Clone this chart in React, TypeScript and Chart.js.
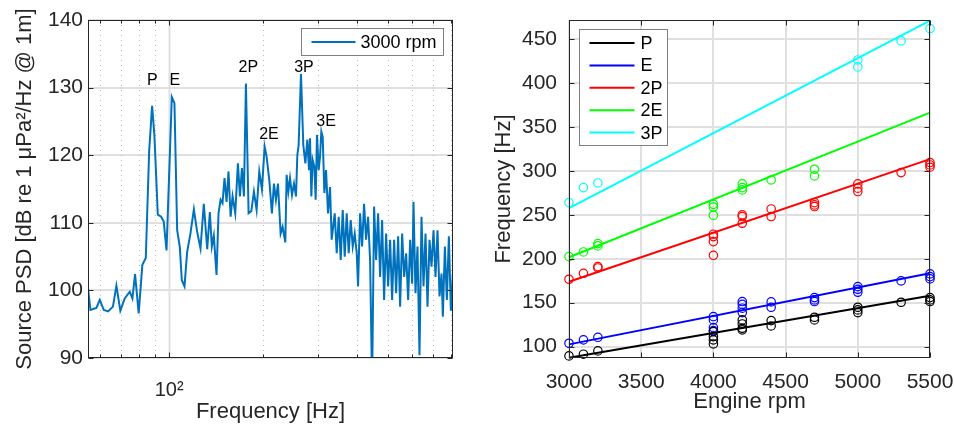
import React, { useEffect, useRef } from 'react';
import { Chart, registerables } from 'chart.js';

Chart.register(...registerables);

const FONT = "'Liberation Sans', Arial, Helvetica, sans-serif";
const AX = '#262626';
const GRID = '#e0e0e0';

// ---------- Left panel: source PSD at 3000 rpm ----------
const psdFreq = [
  54.9, 56.0, 58.5, 60.0, 61.8, 63.8, 66.1, 67.8, 69.8, 72.1, 74.8, 76.3, 77.8, 79.9, 82.1, 84.2,
  86.3, 88.2, 89.7, 92.0, 94.3, 96.1, 98.1, 102.0, 104.0, 106.1, 108.2, 109.8, 112.0, 114.2, 117.0,
  120.0, 122.9, 126.0, 129.1, 132.4, 135.0, 137.0, 139.0, 141.8, 143.9, 146.1, 148.2, 150.4, 152.7,
  154.9, 157.3, 159.6, 162.8, 166.0, 168.5, 171.0, 173.5, 176.1, 179.6, 183.2, 186.8, 190.5, 194.3,
  198.2, 202.1, 205.1, 209.2, 213.3, 216.5, 219.7, 223.0, 227.4, 230.8, 235.4, 237.7, 240.7, 243.7,
  247.3, 251.0, 254.7, 257.2, 259.7, 264.2, 268.8, 272.9, 276.9, 280.3, 282.4, 285.2, 288.0, 291.6,
  294.4, 297.3, 301.0, 304.0, 307.0, 310.1, 313.9, 317.8, 322.5, 327.3, 331.3, 338.8, 343.8, 348.9,
  354.1, 359.4, 364.7, 370.1, 375.6, 381.2, 386.9, 392.6, 398.5, 402.4, 408.4, 414.5, 420.6, 426.9,
  433.2, 439.7, 446.2, 452.9, 459.6, 466.4, 473.4, 480.4, 487.5, 494.8, 502.2, 509.6, 517.2, 524.9,
  532.7, 540.6, 548.6, 556.8, 565.1, 573.5, 582.0, 590.7, 599.5, 605.4, 614.4, 623.5, 632.8, 642.2,
  651.8, 661.5, 671.3, 681.3, 691.4, 701.7, 712.1, 722.7, 733.5, 744.4, 751.7, 762.9, 774.2, 785.7,
  797.4, 809.3,
];
const psdLevel = [
  100.6, 97.1, 97.4, 98.6, 97.1, 96.9, 97.6, 100.7, 97.0, 98.8, 99.8, 98.8, 102.4, 96.6, 103.8, 104.8,
  120.5, 127.3, 123.0, 111.2, 110.9, 110.2, 105.9, 128.6, 127.7, 108.9, 106.4, 101.5, 100.6, 105.7, 108.4,
  112.0, 108.7, 106.2, 112.8, 106.1, 111.6, 106.5, 108.1, 102.3, 111.4, 113.4, 112.9, 116.6, 113.1,
  117.6, 110.9, 113.9, 111.4, 118.8, 113.9, 118.1, 113.9, 130.6, 111.4, 111.7, 114.6, 111.9, 117.6,
  114.9, 121.3, 119.8, 116.3, 111.4, 115.8, 113.4, 115.8, 108.4, 109.4, 107.1, 117.1, 114.6, 116.6,
  114.1, 115.8, 113.9, 120.0, 121.5, 132.0, 121.5, 118.8, 122.3, 117.8, 122.5, 113.9, 119.3, 118.3,
  113.4, 123.0, 117.8, 119.8, 123.5, 122.7, 114.4, 117.8, 111.4, 115.3, 107.5, 111.4, 105.5, 110.9,
  104.5, 111.9, 105.0, 111.4, 105.5, 110.4, 106.5, 108.4, 105.5, 100.6, 111.4, 106.5, 112.8, 107.5,
  110.9, 104.5, 86.0, 112.4, 104.5, 111.4, 102.0, 110.4, 98.6, 108.4, 100.6, 107.5, 98.6, 107.5,
  99.6, 108.0, 97.6, 108.4, 102.0, 105.5, 98.6, 107.5, 101.0, 113.1, 99.6, 106.5, 90.4, 110.9,
  100.6, 108.4, 97.6, 107.5, 103.5, 108.9, 102.0, 108.9, 99.1, 102.5, 96.1, 106.5, 98.6, 108.0,
  97.0, 102.5,
];
const psdXTicks = [60, 70, 80, 90, 100, 200, 300, 400, 500, 600, 700, 800];
const psdYTicks = [90, 100, 110, 120, 130, 140];
const peakLabels = ['P', 'E', '2P', '2E', '3P', '3E'];
const peakFreq = [88.4, 104.3, 179.2, 208.7, 270.1, 317.8];
const peakLevel = [131.1, 131.1, 132.9, 123.0, 132.9, 125.0];
const psdLegend = '3000 rpm';

// ---------- Right panel: tonal frequency vs engine rpm ----------
const rpmTicks = [3000, 3500, 4000, 4500, 5000, 5500];
const hzTicks = [100, 150, 200, 250, 300, 350, 400, 450];
const seriesNames = ['P', 'E', '2P', '2E', '3P'];
const seriesColors = ['#000000', '#0000ff', '#ff0000', '#00ff00', '#00ffff'];

const pRpm = [3000, 3100, 3200, 4000, 4000, 4000, 4000, 4200, 4200, 4200, 4200, 4400, 4400, 4700, 4700, 5000, 5000, 5000, 5300, 5500, 5500, 5500];
const pHz = [89.4, 91.3, 95.1, 117.1, 111.4, 107.6, 103.0, 130.4, 125.8, 120.9, 119.0, 129.6, 123.5, 133.4, 130.4, 144.8, 141.8, 138.7, 150.5, 155.8, 153.2, 151.3];
const eRpm = [3000, 3100, 3200, 4000, 4000, 4000, 4000, 4200, 4200, 4200, 4200, 4400, 4400, 4700, 4700, 4700, 5000, 5000, 5000, 5300, 5500, 5500, 5500];
const eHz = [103.8, 107.6, 110.6, 134.2, 130.4, 121.6, 118.2, 151.3, 148.2, 143.7, 138.7, 150.9, 144.8, 155.8, 153.2, 151.3, 168.3, 165.3, 161.9, 174.8, 182.8, 179.7, 177.1];
const p2Rpm = [3000, 3100, 3200, 3200, 4000, 4000, 4000, 4000, 4200, 4200, 4200, 4400, 4400, 4700, 4700, 4700, 5000, 5000, 5000, 5300, 5500, 5500, 5500];
const p2Hz = [176.7, 183.5, 191.1, 189.6, 228.0, 225.3, 219.6, 204.0, 250.0, 248.1, 240.5, 256.8, 248.1, 264.0, 261.4, 259.5, 285.3, 280.4, 276.6, 298.2, 309.6, 306.9, 304.3];
const e2Rpm = [3000, 3100, 3200, 3200, 4000, 4000, 4000, 4200, 4200, 4200, 4400, 4700, 4700];
const e2Hz = [202.5, 207.8, 217.3, 214.7, 262.0, 259.0, 249.6, 285.3, 281.1, 278.5, 289.8, 302.0, 294.4];
const p3Rpm = [3000, 3100, 3200, 5000, 5000, 5300, 5500];
const p3Hz = [264.0, 281.1, 286.4, 426.5, 418.6, 448.2, 462.2];

const fitRpm = [3000, 5500];
const fitP = [87.3, 158.0];
const fitE = [102.5, 183.5];
const fit2P = [173.9, 313.5];
const fit2E = [201.8, 366.5];
const fit3P = [257.6, 471.3];

const pts = (xs: number[], ys: number[]) => xs.map((x, i) => ({ x, y: ys[i] }));

function drawBoxAndTicks(chart: any, xVals: number[], yVals: number[], isMajorX: (v: number) => boolean) {
  const { ctx, chartArea: a, scales } = chart;
  const L = Math.round(a.left) + 0.5;
  const R = Math.round(a.right) - 0.5;
  const T = Math.round(a.top) + 0.5;
  const B = Math.round(a.bottom) - 0.5;
  ctx.save();
  ctx.setLineDash([]);
  ctx.strokeStyle = AX;
  ctx.lineWidth = 1;
  ctx.beginPath();
  for (const v of xVals) {
    const px = Math.round(scales.x.getPixelForValue(v)) + 0.5;
    const len = isMajorX(v) ? 5 : 3;
    ctx.moveTo(px, B); ctx.lineTo(px, B - len);
    ctx.moveTo(px, T); ctx.lineTo(px, T + len);
  }
  for (const v of yVals) {
    const py = Math.round(scales.y.getPixelForValue(v)) + 0.5;
    ctx.moveTo(L, py); ctx.lineTo(L + 5, py);
    ctx.moveTo(R, py); ctx.lineTo(R - 5, py);
  }
  ctx.stroke();
  ctx.strokeRect(L, T, R - L, B - T);
  ctx.restore();
}

const psdDecor = {
  id: 'psdDecor',
  beforeDatasetsDraw(chart: any) {
    const { ctx, chartArea: a, scales } = chart;
    ctx.save();
    for (const v of psdXTicks) {
      const px = Math.round(scales.x.getPixelForValue(v)) + 0.5;
      ctx.beginPath();
      if (v === 100) {
        ctx.setLineDash([]);
        ctx.strokeStyle = GRID;
        ctx.lineWidth = 2;
      } else {
        ctx.setLineDash([1, 4]);
        ctx.strokeStyle = '#bcbcbc';
        ctx.lineWidth = 1;
      }
      ctx.moveTo(px, a.top);
      ctx.lineTo(px, a.bottom);
      ctx.stroke();
    }
    ctx.restore();
  },
  afterDatasetsDraw(chart: any) {
    const { ctx, chartArea: a, scales } = chart;
    drawBoxAndTicks(chart, psdXTicks, psdYTicks, (v) => v === 100);
    ctx.save();
    ctx.fillStyle = '#000';
    ctx.font = `16px ${FONT}`;
    ctx.textAlign = 'center';
    ctx.textBaseline = 'middle';
    peakLabels.forEach((t, i) => {
      ctx.fillText(t, scales.x.getPixelForValue(peakFreq[i]), scales.y.getPixelForValue(peakLevel[i]));
    });
    // legend
    const bx = Math.round(a.right - 152) + 0.5;
    const by = Math.round(a.top + 8) + 0.5;
    const bw = 142;
    const bh = 27;
    ctx.fillStyle = '#fff';
    ctx.fillRect(bx, by, bw, bh);
    ctx.strokeStyle = '#7f7f7f';
    ctx.lineWidth = 1;
    ctx.strokeRect(bx, by, bw, bh);
    ctx.strokeStyle = '#0072BD';
    ctx.lineWidth = 2;
    ctx.beginPath();
    ctx.moveTo(bx + 10, by + bh / 2);
    ctx.lineTo(bx + 54, by + bh / 2);
    ctx.stroke();
    ctx.fillStyle = '#000';
    ctx.font = `18px ${FONT}`;
    ctx.textAlign = 'left';
    ctx.fillText(psdLegend, bx + 59, by + bh / 2 + 1);
    ctx.restore();
  },
};

const rpmDecor = {
  id: 'rpmDecor',
  afterDatasetsDraw(chart: any) {
    const { ctx, chartArea: a } = chart;
    drawBoxAndTicks(chart, rpmTicks, hzTicks, () => true);
    ctx.save();
    const bx = Math.round(a.left + 10) + 0.5;
    const by = Math.round(a.top + 9) + 0.5;
    const bw = 88;
    const bh = 116;
    ctx.fillStyle = '#fff';
    ctx.fillRect(bx, by, bw, bh);
    ctx.strokeStyle = '#7f7f7f';
    ctx.lineWidth = 1;
    ctx.strokeRect(bx, by, bw, bh);
    ctx.font = `18px ${FONT}`;
    ctx.textAlign = 'left';
    ctx.textBaseline = 'middle';
    seriesNames.forEach((n, i) => {
      const yy = by + 13.5 + i * 22.4;
      ctx.strokeStyle = seriesColors[i];
      ctx.lineWidth = 2;
      ctx.beginPath();
      ctx.moveTo(bx + 10, yy);
      ctx.lineTo(bx + 55, yy);
      ctx.stroke();
      ctx.fillStyle = '#000';
      ctx.fillText(n, bx + 61, yy + 1);
    });
    ctx.restore();
  },
};

const tickFont = (size: number) => ({ family: FONT, size });

function makePsdChart(canvas: HTMLCanvasElement) {
  return new Chart(canvas, {
    type: 'line',
    data: {
      datasets: [
        {
          label: psdLegend,
          data: pts(psdFreq, psdLevel),
          borderColor: '#0072BD',
          borderWidth: 2,
          pointRadius: 0,
          tension: 0,
          fill: false,
        },
      ],
    },
    options: {
      animation: false,
      responsive: false,
      devicePixelRatio: 1,
      layout: { padding: { left: 0, right: 24, top: 20, bottom: 0 } },
      plugins: { legend: { display: false }, tooltip: { enabled: false } },
      scales: {
        x: {
          type: 'logarithmic',
          min: 55,
          max: 810,
          afterBuildTicks: (s: any) => { s.ticks = psdXTicks.map((v) => ({ value: v })); },
          afterFit: (s: any) => { s.height = 67; s.paddingLeft = 0; s.paddingRight = 0; },
          grid: { display: false, drawTicks: false },
          border: { display: false },
          ticks: {
            autoSkip: false,
            maxRotation: 0,
            minRotation: 0,
            padding: 20,
            color: AX,
            font: tickFont(20),
            callback: (v: any) => (Number(v) === 100 ? '10²' : ''),
          },
          title: { display: true, text: 'Frequency [Hz]', color: AX, font: tickFont(22), padding: { top: 0, bottom: 0 } },
        },
        y: {
          type: 'linear',
          min: 90,
          max: 140,
          afterBuildTicks: (s: any) => { s.ticks = psdYTicks.map((v) => ({ value: v })); },
          afterFit: (s: any) => { s.width = 88; s.paddingTop = 0; s.paddingBottom = 0; },
          grid: { color: GRID, lineWidth: 2, drawTicks: false },
          border: { display: false },
          ticks: { padding: 5, color: AX, font: tickFont(21) },
          title: { display: true, text: 'Source PSD [dB re 1 μPa²/Hz @ 1m]', color: AX, font: tickFont(22), padding: { top: 12, bottom: 0 } },
        },
      },
    },
    plugins: [psdDecor],
  } as any);
}

function makeRpmChart(canvas: HTMLCanvasElement) {
  const fits = [fitP, fitE, fit2P, fit2E, fit3P];
  const scat = [pts(pRpm, pHz), pts(eRpm, eHz), pts(p2Rpm, p2Hz), pts(e2Rpm, e2Hz), pts(p3Rpm, p3Hz)];
  const datasets: any[] = [];
  seriesNames.forEach((n, i) => {
    datasets.push({
      label: n + ' data',
      data: scat[i],
      showLine: false,
      clip: false,
      pointStyle: 'circle',
      pointRadius: 4.2,
      pointBorderWidth: 1.2,
      pointBorderColor: seriesColors[i],
      pointBackgroundColor: 'rgba(0,0,0,0)',
      borderColor: seriesColors[i],
    });
  });
  seriesNames.forEach((n, i) => {
    datasets.push({
      label: n,
      data: pts(fitRpm, fits[i]),
      showLine: true,
      clip: 2,
      borderColor: seriesColors[i],
      borderWidth: 2,
      pointRadius: 0,
      tension: 0,
    });
  });
  return new Chart(canvas, {
    type: 'scatter',
    data: { datasets },
    options: {
      animation: false,
      responsive: false,
      devicePixelRatio: 1,
      layout: { padding: { left: 0, right: 24, top: 20, bottom: 0 } },
      plugins: { legend: { display: false }, tooltip: { enabled: false } },
      scales: {
        x: {
          type: 'linear',
          min: 3000,
          max: 5500,
          afterBuildTicks: (s: any) => { s.ticks = rpmTicks.map((v) => ({ value: v })); },
          afterFit: (s: any) => { s.height = 67; s.paddingLeft = 0; s.paddingRight = 0; },
          grid: { color: GRID, lineWidth: 2, drawTicks: false },
          border: { display: false },
          ticks: {
            autoSkip: false,
            maxRotation: 0,
            minRotation: 0,
            padding: 12,
            color: AX,
            font: tickFont(21),
            callback: (v: any) => String(v),
          },
          title: { display: true, text: 'Engine rpm', color: AX, font: tickFont(22), padding: { top: 0, bottom: 10 } },
        },
        y: {
          type: 'linear',
          min: 87,
          max: 472,
          afterBuildTicks: (s: any) => { s.ticks = hzTicks.map((v) => ({ value: v })); },
          afterFit: (s: any) => { s.width = 92; s.paddingTop = 0; s.paddingBottom = 0; },
          grid: { color: GRID, lineWidth: 2, drawTicks: false },
          border: { display: false },
          ticks: { padding: 12, color: AX, font: tickFont(21), callback: (v: any) => String(v) },
          title: { display: true, text: 'Frequency [Hz]', color: AX, font: tickFont(22), padding: { top: 14, bottom: 0 } },
        },
      },
    },
    plugins: [rpmDecor],
  } as any);
}

export default function App() {
  const leftRef = useRef<HTMLCanvasElement | null>(null);
  const rightRef = useRef<HTMLCanvasElement | null>(null);

  useEffect(() => {
    const c1 = makePsdChart(leftRef.current as HTMLCanvasElement);
    const c2 = makeRpmChart(rightRef.current as HTMLCanvasElement);
    return () => {
      c1.destroy();
      c2.destroy();
    };
  }, []);

  return (
    <div style={{ position: 'absolute', left: 0, top: 0, width: 954, height: 425, background: '#fff' }}>
      <canvas ref={leftRef} width={477} height={425} style={{ position: 'absolute', left: 0, top: 0, width: 477, height: 425 }} />
      <canvas ref={rightRef} width={477} height={425} style={{ position: 'absolute', left: 477, top: 0, width: 477, height: 425 }} />
    </div>
  );
}
